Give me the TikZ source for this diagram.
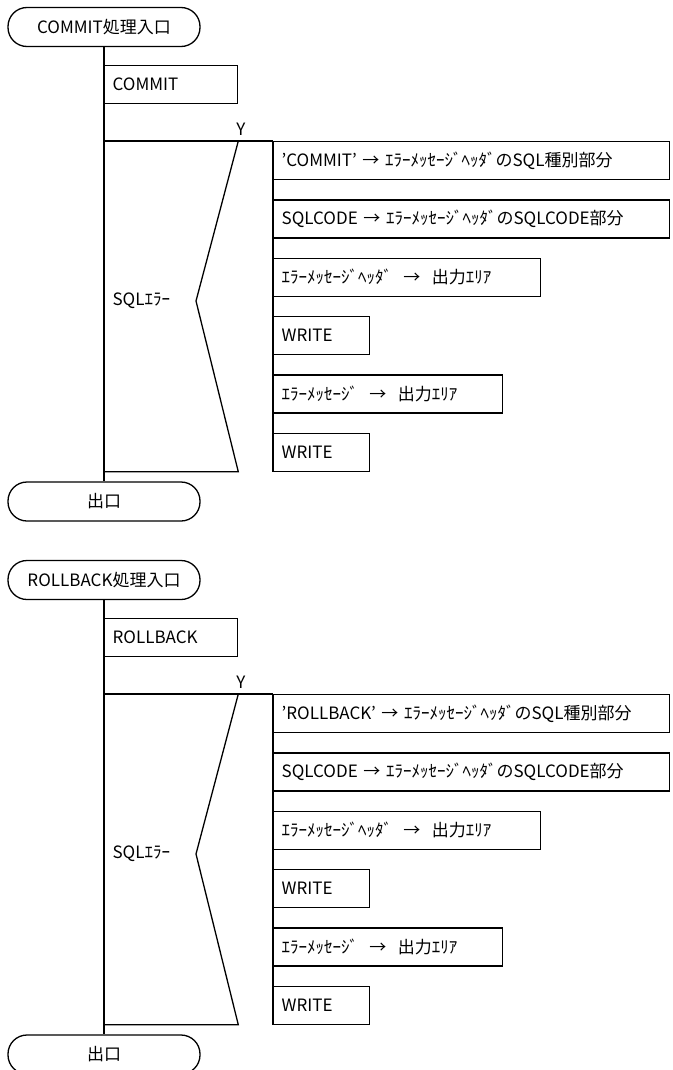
\documentclass[tikz,border=0pt]{standalone}
\usepackage{fontspec}
\setmainfont{Noto Sans CJK JP}
\usetikzlibrary{positioning}

\begin{document}
\begin{tikzpicture}[
        x=1pt, y=-1pt,
        node distance=19pt,
        font=\fontsize{17pt}{20pt}\selectfont,
        term/.style={draw, rectangle, rounded corners=19pt, minimum width=192pt, minimum height=39pt, line width=1.3pt},
        box/.style={draw, rectangle, anchor=north west, align=left, minimum height=38pt, inner xsep=8pt, line width=1.3pt},
        flow/.style={line width=1.3pt}
    ]
        \useasboundingbox (0,0) rectangle (672,1070);

        % COMMIT
        \node[term] (entry1) at (104,27) {COMMIT処理入口};
        \node[box, text width=117pt] (commit) at (104,65) {COMMIT};
        \node (y1) at (241,129) {Y};
        \node[anchor=west] (cond1) at (109,301) {SQLｴﾗｰ};
        \node[box, text width=380pt] (c1) at (273,141) {'COMMIT' → ｴﾗｰﾒｯｾｰｼﾞﾍｯﾀﾞのSQL種別部分};
        \node[box, text width=380pt, below=of c1.south west, anchor=north west] (c2) {SQLCODE → ｴﾗｰﾒｯｾｰｼﾞﾍｯﾀﾞのSQLCODE部分};
        \node[box, text width=251pt, below=of c2.south west, anchor=north west] (c3) {ｴﾗｰﾒｯｾｰｼﾞﾍｯﾀﾞ \ → \ 出力ｴﾘｱ};
        \node[box, text width=80pt, below=of c3.south west, anchor=north west] (c4) {WRITE};
        \node[box, text width=213pt, below=of c4.south west, anchor=north west] (c5) {ｴﾗｰﾒｯｾｰｼﾞ \ → \ 出力ｴﾘｱ};
        \node[box, text width=80pt, below=of c5.south west, anchor=north west] (c6) {WRITE};
        \node[term] (exit1) at (104,501.5) {出口};

        \draw[flow] (entry1) -- (exit1);
        \draw[flow] (entry1 |- c1.north) -- (c1.north west);
        \draw[flow] (c1.north west) -- (c6.south west);
        \draw[flow] (commit.east |- c1.north) -- (196,301) -- (commit.east |- c6.south) -- (entry1 |- c6.south);

        % ROLLBACK
        \begin{scope}[yshift=-553pt]
        \node[term] (entry2) at (104,27) {ROLLBACK処理入口};
        \node[box, text width=117pt] (rollback) at (104,65) {ROLLBACK};
        \node (y2) at (241,129) {Y};
        \node[anchor=west] (cond2) at (109,301) {SQLｴﾗｰ};
        \node[box, text width=380pt] (r1) at (273,141) {'ROLLBACK' → ｴﾗｰﾒｯｾｰｼﾞﾍｯﾀﾞのSQL種別部分};
        \node[box, text width=380pt, below=of r1.south west, anchor=north west] (r2) {SQLCODE → ｴﾗｰﾒｯｾｰｼﾞﾍｯﾀﾞのSQLCODE部分};
        \node[box, text width=251pt, below=of r2.south west, anchor=north west] (r3) {ｴﾗｰﾒｯｾｰｼﾞﾍｯﾀﾞ \ → \ 出力ｴﾘｱ};
        \node[box, text width=80pt, below=of r3.south west, anchor=north west] (r4) {WRITE};
        \node[box, text width=213pt, below=of r4.south west, anchor=north west] (r5) {ｴﾗｰﾒｯｾｰｼﾞ \ → \ 出力ｴﾘｱ};
        \node[box, text width=80pt, below=of r5.south west, anchor=north west] (r6) {WRITE};
        \node[term] (exit2) at (104,501.5) {出口};

        \draw[flow] (entry2) -- (exit2);
        \draw[flow] (entry2 |- r1.north) -- (r1.north west);
        \draw[flow] (r1.north west) -- (r6.south west);
        \draw[flow] (rollback.east |- r1.north) -- (196,301) -- (rollback.east |- r6.south) -- (entry2 |- r6.south);
        \end{scope}
    \end{tikzpicture}
\end{document}
